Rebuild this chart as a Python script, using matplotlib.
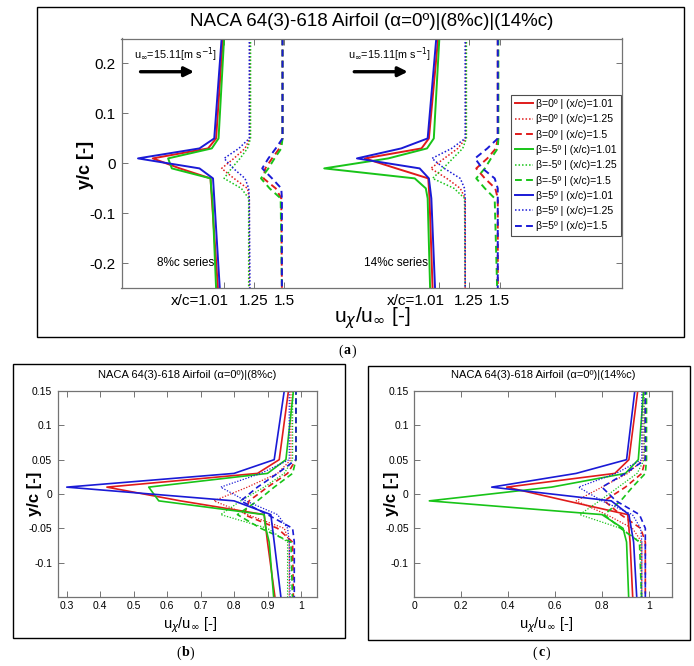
import matplotlib
matplotlib.use("Agg")
import matplotlib.pyplot as plt
from matplotlib.patches import Rectangle
from matplotlib.transforms import ScaledTranslation

plt.rcParams['font.family'] = ['Liberation Sans Narrow', 'Liberation Sans', 'DejaVu Sans']
plt.rcParams['axes.unicode_minus'] = False

# ---------------- data ----------------
y_c = [0.25, 0.05, 0.03, 0.01, -0.01, -0.03, -0.05, -0.07, -0.25]
xc_stations = [1.01, 1.25, 1.5]
betas = ['0', '-5', '5']

# 8%c series  (u_x/u_inf)
u8_b0_101 = [0.99, 0.935, 0.87, 0.42, 0.64, 0.89, 0.895, 0.90, 0.95]
u8_bm5_101 = [1.00, 0.955, 0.90, 0.545, 0.575, 0.89, 0.895, 0.905, 0.935]
u8_b5_101 = [0.98, 0.92, 0.80, 0.30, 0.80, 0.91, 0.915, 0.92, 0.965]
u8_b0_125 = [0.97, 0.97, 0.93, 0.84, 0.74, 0.84, 0.95, 0.965, 0.965]
u8_bm5_125 = [0.975, 0.975, 0.95, 0.89, 0.82, 0.76, 0.90, 0.96, 0.96]
u8_b5_125 = [0.965, 0.965, 0.88, 0.76, 0.835, 0.93, 0.96, 0.965, 0.97]
u8_b0_150 = [0.985, 0.985, 0.96, 0.90, 0.845, 0.83, 0.93, 0.975, 0.98]
u8_bm5_150 = [0.985, 0.985, 0.975, 0.92, 0.87, 0.81, 0.88, 0.97, 0.98]
u8_b5_150 = [0.985, 0.985, 0.93, 0.87, 0.82, 0.90, 0.975, 0.98, 0.98]

# 14%c series
u14_b0_101 = [0.99, 0.915, 0.855, 0.394, 0.65, 0.91, 0.915, 0.92, 0.945]
u14_bm5_101 = [1.00, 0.955, 0.90, 0.585, 0.064, 0.80, 0.89, 0.905, 0.925]
u14_b5_101 = [0.975, 0.905, 0.69, 0.33, 0.84, 0.915, 0.925, 0.935, 0.965]
u14_b0_125 = [0.975, 0.975, 0.91, 0.80, 0.69, 0.82, 0.93, 0.97, 0.97]
u14_bm5_125 = [0.98, 0.98, 0.95, 0.87, 0.79, 0.705, 0.88, 0.965, 0.97]
u14_b5_125 = [0.97, 0.97, 0.86, 0.70, 0.80, 0.93, 0.965, 0.97, 0.97]
u14_b0_150 = [0.985, 0.985, 0.97, 0.90, 0.81, 0.88, 0.965, 0.985, 0.985]
u14_bm5_150 = [0.99, 0.99, 0.985, 0.93, 0.88, 0.81, 0.88, 0.96, 0.98]
u14_b5_150 = [0.985, 0.985, 0.90, 0.80, 0.86, 0.96, 0.985, 0.985, 0.985]

series8 = [u8_b0_101, u8_b0_125, u8_b0_150,
           u8_bm5_101, u8_bm5_125, u8_bm5_150,
           u8_b5_101, u8_b5_125, u8_b5_150]
series14 = [u14_b0_101, u14_b0_125, u14_b0_150,
            u14_bm5_101, u14_bm5_125, u14_bm5_150,
            u14_b5_101, u14_b5_125, u14_b5_150]
labels = [f'β={b}º | (x/c)={x}' for b in betas for x in ['1.01', '1.25', '1.5']]

# ---------------- styles ----------------
col = {'0': '#e01b1b', '-5': '#18c418', '5': '#1a1ad6'}
ls = [('-', 1.2), ((0, (1, 1.3)), 0.9), ((0, (3.5, 2.2)), 1.2)]
GROUP_SHIFT = 1.75
W, H = 694, 666
SPINE = '0.45'

fig = plt.figure(figsize=(W / 100, H / 100), dpi=100)

def fx(px):
    return px / W

def fy(py):
    return 1 - py / H

def frame(x0, y0, x1, y1):
    fig.add_artist(Rectangle((fx(x0), fy(y1)), fx(x1) - fx(x0), fy(y0) - fy(y1),
                             transform=fig.transFigure, fill=False, ec='k', lw=1.0))

def style_axes(ax, fs):
    for s in ax.spines.values():
        s.set_color(SPINE)
        s.set_linewidth(0.9)
    ax.tick_params(direction='in', top=True, right=True, length=4, width=0.7,
                   color=SPINE, labelsize=fs, pad=4)

def caption(xp, yp, letter):
    fig.text(fx(xp), fy(yp), letter, ha='center', va='center', fontsize=10,
             family='Liberation Serif', weight='bold')
    fig.text(fx(xp - 4), fy(yp), '(', ha='right', va='center', fontsize=10,
             family='Liberation Serif')
    fig.text(fx(xp + 4), fy(yp), ')', ha='left', va='center', fontsize=10,
             family='Liberation Serif')

# ---------------- panel (a) ----------------
frame(37, 7, 684, 337)
axa = fig.add_axes([fx(121.5), fy(288.3), fx(622) - fx(121.5), fy(38.5) - fy(288.3)])
handles = []
for g, ser in enumerate([series8, series14]):
    for i, u in enumerate(ser):
        b = betas[i // 3]
        k = i % 3
        xs = [v + xc_stations[k] + g * GROUP_SHIFT for v in u]
        h, = axa.plot(xs, y_c, color=col[b], linestyle=ls[k][0], lw=ls[k][1] + 0.2,
                      label=labels[i])
        if g == 0:
            handles.append(h)
axa.set_xlim(1.176, 5.245)
axa.set_ylim(-0.25, 0.25)
axa.set_yticks([-0.2, -0.1, 0, 0.1, 0.2])
axa.set_yticklabels(['-0.2', '-0.1', '0', '0.1', '0.2'])
tick_pos = [xc + 1 + g * GROUP_SHIFT for g in range(2) for xc in xc_stations]
axa.set_xticks(tick_pos)
axa.set_xticklabels(['x/c=1.01', '1.25', '1.5'] * 2)
style_axes(axa, 11)
shift = ScaledTranslation(5 / 100, 0, fig.dpi_scale_trans)
for t in axa.get_xticklabels():
    if t.get_text().startswith('x/c'):
        t.set_ha('right')
        t.set_transform(t.get_transform() + shift)
leg = axa.legend(handles=handles, loc='upper left', bbox_to_anchor=(0.778, 0.774),
                 fontsize=7.6, frameon=True, fancybox=False, edgecolor='0.3',
                 framealpha=1, borderaxespad=0, handlelength=1.7, handletextpad=0.25,
                 labelspacing=0.5, borderpad=0.4)
leg.get_frame().set_linewidth(0.8)
for g, x0 in enumerate([0.025, 0.452]):
    axa.text(x0, 0.935, r'u$_\infty$=15.11[m s$^{-1}$]', transform=axa.transAxes,
             fontsize=7.8, ha='left', va='center')
    axa.annotate('', xy=(x0 + 0.12, 0.867), xytext=(x0 + 0.013, 0.867),
                 xycoords='axes fraction', textcoords='axes fraction',
                 arrowprops=dict(arrowstyle='-|>', lw=2.4, color='k', mutation_scale=14,
                                 shrinkA=0, shrinkB=0))
axa.text(0.128, 0.101, '8%c series', transform=axa.transAxes, fontsize=8.5,
         ha='center', va='center')
axa.text(0.548, 0.101, '14%c series', transform=axa.transAxes, fontsize=8.5,
         ha='center', va='center')
fig.text(fx(372), fy(22), 'NACA 64(3)-618 Airfoil (α=0º)|(8%c)|(14%c)', ha='center',
         va='center', fontsize=13.5)
fig.text(fx(86), fy(165), 'y/c [-]', rotation=90, ha='center', va='center',
         fontsize=13, weight='bold')
fig.text(fx(372), fy(318), r'u$_\chi$/u$_\infty$ [-]', ha='center', va='center',
         fontsize=15)
caption(347, 351, 'a')

# ---------------- panels (b), (c) ----------------
panel_specs = [
    dict(box=(13, 364, 345, 638), left=57.7, right=316.7, ser=series8,
         xlim=(0.273, 1.047), xt=[0.3, 0.4, 0.5, 0.6, 0.7, 0.8, 0.9, 1.0],
         xtl=['0.3', '0.4', '0.5', '0.6', '0.7', '0.8', '0.9', '1'],
         title='NACA 64(3)-618 Airfoil (α=0º)|(8%c)', cap='b'),
    dict(box=(368, 366, 690, 640), left=414.3, right=672.3, ser=series14,
         xlim=(0.0, 1.1), xt=[0, 0.2, 0.4, 0.6, 0.8, 1.0],
         xtl=['0', '0.2', '0.4', '0.6', '0.8', '1'],
         title='NACA 64(3)-618 Airfoil (α=0º)|(14%c)', cap='c'),
]
for sp in panel_specs:
    frame(*sp['box'])
    ax = fig.add_axes([fx(sp['left']), fy(597), fx(sp['right']) - fx(sp['left']),
                       fy(391) - fy(597)])
    for i, u in enumerate(sp['ser']):
        b = betas[i // 3]
        k = i % 3
        ax.plot(u, y_c, color=col[b], linestyle=ls[k][0], lw=ls[k][1])
    ax.set_xlim(*sp['xlim'])
    ax.set_ylim(-0.15, 0.15)
    ax.set_xticks(sp['xt'])
    ax.set_xticklabels(sp['xtl'])
    ax.set_yticks([-0.1, -0.05, 0, 0.05, 0.1, 0.15])
    ax.set_yticklabels(['-0.1', '-0.05', '0', '0.05', '0.1', '0.15'])
    style_axes(ax, 7.5)
    ax.tick_params(axis='x', pad=3)
    cx = (sp['left'] + sp['right']) / 2
    fig.text(fx(cx), fy(375), sp['title'], ha='center', va='center', fontsize=8)
    fig.text(fx(sp['left'] - 23), fy(494), 'y/c [-]', rotation=90, ha='center',
             va='center', fontsize=12, weight='bold')
    fig.text(fx(cx + 3), fy(625), r'u$_\chi$/u$_\infty$ [-]', ha='center', va='center',
             fontsize=10.5)
    caption(cx - 2, 653, sp['cap'])

fig.savefig('out.png', dpi=100)
